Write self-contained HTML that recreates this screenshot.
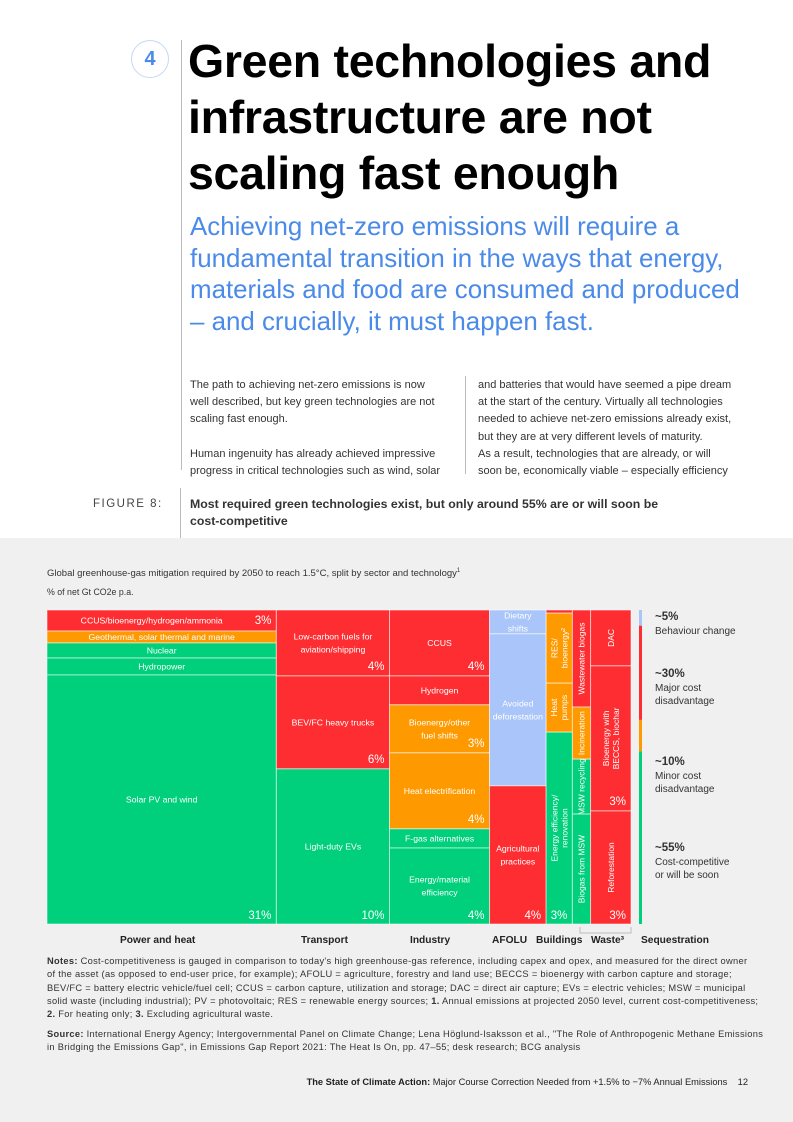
<!DOCTYPE html>
<html><head><meta charset="utf-8"><style>
body{margin:0;width:793px;height:1122px;position:relative;background:#fff;font-family:"Liberation Sans",Arial,sans-serif;overflow:hidden}
.a{position:absolute}
.title{left:188px;top:33px;font-size:46.5px;font-weight:bold;line-height:56px;color:#000;letter-spacing:-0.3px}
.sub{left:190px;top:212px;font-size:25.9px;line-height:31.5px;color:#4a8ae8;white-space:nowrap}
.body{font-size:11px;line-height:17.2px;color:#333}
.gray{left:0;top:538px;width:793px;height:584px;background:#f0f0f0}
.notes{left:47px;width:740px;font-size:9.3px;line-height:13.3px;color:#333;white-space:nowrap;letter-spacing:0.3px}
</style></head><body>
<div class="a" style="left:131px;top:40px;width:36px;height:36px;border:1px solid #c5d8f5;border-radius:50%;color:#4a8ae8;font-weight:bold;font-size:20px;text-align:center;line-height:36px">4</div>
<div class="a" style="left:181px;top:40px;width:1px;height:430px;background:#bbb"></div>
<div class="a title">Green technologies and<br>infrastructure are not<br>scaling fast enough</div>
<div class="a sub">Achieving net-zero emissions will require a<br>fundamental transition in the ways that energy,<br>materials and food are consumed and produced<br>– and crucially, it must happen fast.</div>
<div class="a body" style="left:190px;top:377px;width:280px">The path to achieving net-zero emissions is now<br>well described, but key green technologies are not<br>scaling fast enough.<br><br>Human ingenuity has already achieved impressive<br>progress in critical technologies such as wind, solar</div>
<div class="a" style="left:465px;top:376px;width:1px;height:98px;background:#bbb"></div>
<div class="a body" style="left:478px;top:377px;width:290px">and batteries that would have seemed a pipe dream<br>at the start of the century. Virtually all technologies<br>needed to achieve net-zero emissions already exist,<br>but they are at very different levels of maturity.<br>As a result, technologies that are already, or will<br>soon be, economically viable – especially efficiency</div>
<div class="a" style="left:93px;top:498px;font-size:11.5px;letter-spacing:1.5px;color:#444">FIGURE 8:</div>
<div class="a" style="left:180px;top:488px;width:1px;height:50px;background:#bbb"></div>
<div class="a" style="left:190px;top:496px;font-size:12.3px;font-weight:bold;line-height:16.5px;color:#333">Most required green technologies exist, but only around 55% are or will soon be<br>cost-competitive</div>
<div class="a gray"></div>
<div class="a" style="left:47px;top:568px;font-size:9.5px;color:#333">Global greenhouse-gas mitigation required by 2050 to reach 1.5°C, split by sector and technology<sup style="font-size:6px">1</sup></div>
<div class="a" style="left:47px;top:587px;font-size:8.8px;color:#333">% of net Gt CO2e p.a.</div>
<svg class="a" id="chart" style="left:0;top:0" width="793" height="1122"></svg>
<div class="a notes" style="top:955px"><b>Notes:</b> Cost-competitiveness is gauged in comparison to today's high greenhouse-gas reference, including capex and opex, and measured for the direct owner<br>of the asset (as opposed to end-user price, for example); AFOLU = agriculture, forestry and land use; BECCS = bioenergy with carbon capture and storage;<br>BEV/FC = battery electric vehicle/fuel cell; CCUS = carbon capture, utilization and storage; DAC = direct air capture; EVs = electric vehicles; MSW = municipal<br>solid waste (including industrial); PV = photovoltaic; RES = renewable energy sources; <b>1.</b> Annual emissions at projected 2050 level, current cost-competitiveness;<br><b>2.</b> For heating only; <b>3.</b> Excluding agricultural waste.</div>
<div class="a notes" style="top:1028px"><b>Source:</b> International Energy Agency; Intergovernmental Panel on Climate Change; Lena Höglund-Isaksson et al., "The Role of Anthropogenic Methane Emissions<br>in Bridging the Emissions Gap", in Emissions Gap Report 2021: The Heat Is On, pp. 47–55; desk research; BCG analysis</div>
<div class="a" style="left:280px;top:1077px;width:468px;text-align:right;font-size:9.3px;color:#222"><b>The State of Climate Action:</b> Major Course Correction Needed from +1.5% to −7% Annual Emissions &nbsp;&nbsp;&nbsp;12</div>
<script>
const sectors=["Power and heat","Transport","Industry","AFOLU","Buildings","Waste³","Sequestration"];
const sectorWidths=[227,112,99,56,26,18,40];
const sectorPct=["31%","10%","4%","4%","3%","","3%"];
const segValues=[[6.7,3.8,4.8,5.4,79.3],[21,29.6,49.4],[21,9.2,15.3,24.2,6.1,24.2],[7.6,48.4,44],[1,22.3,15.6,61.1],[30.9,16.6,17.5,35],[17.8,46.2,36]];
const segLabels=[["CCUS/bioenergy/hydrogen/ammonia","Geothermal, solar thermal and marine","Nuclear","Hydropower","Solar PV and wind"],["Low-carbon fuels for|aviation/shipping","BEV/FC heavy trucks","Light-duty EVs"],["CCUS","Hydrogen","Bioenergy/other|fuel shifts","Heat electrification","F-gas alternatives","Energy/material|efficiency"],["Dietary|shifts","Avoided|deforestation","Agricultural|practices"],["","RES/|bioenergy²","Heat|pumps","Energy efficiency/|renovation"],["Wastewater biogas","Incineration","MSW recycling","Biogas from MSW"],["DAC","Bioenergy with|BECCS, biochar","Reforestation"]];
const segCats=[["r","o","g","g","g"],["r","r","g"],["r","r","o","o","g","g"],["b","b","r"],["r","o","o","g"],["r","o","g","g"],["r","r","r"]];
const segPct=[["3%","","","",""],["4%","6%",""],["4%","","3%","4%","",""],["","",""],["","","",""],["","","",""],["","3%",""]];
const legendVals=[5,30,10,55];
const legendCats=["b","r","o","g"];
const legendLabels=[["~5%","Behaviour change"],["~30%","Major cost","disadvantage"],["~10%","Minor cost","disadvantage"],["~55%","Cost-competitive","or will be soon"]];
const colors={r:"#fe2d31",o:"#fe9a00",g:"#00cf7c",b:"#a9c5f9"};
const X0=47,XW=584,Y0=610,YH=314;
const svg=document.getElementById('chart');const NS="http://www.w3.org/2000/svg";
const totW=sectorWidths.reduce((a,b)=>a+b,0);
const xs=v=>v/totW*XW;const ys=v=>v/100*YH;
function el(t,a){const e=document.createElementNS(NS,t);for(const k in a)e.setAttribute(k,a[k]);svg.appendChild(e);return e;}
function txt(x,y,s,size,anchor,rot,weight,fill){const e=el('text',{x:x,y:y,'font-size':size,'text-anchor':anchor,fill:fill||'#fff','font-family':'Liberation Sans, Arial, sans-serif'});if(weight)e.setAttribute('font-weight',weight);if(rot)e.setAttribute('transform',`rotate(-90 ${x} ${y})`);e.textContent=s;return e;}
let cx=X0;
sectors.forEach((s,i)=>{
  const w=xs(sectorWidths[i]);let cy=Y0;
  segValues[i].forEach((v,j)=>{
    const h=ys(v);
    const r=el('rect',{x:cx,y:cy,width:w,height:h,fill:colors[segCats[i][j]],stroke:'rgba(255,255,255,0.55)','stroke-width':1});
    
    
    const lines=segLabels[i][j]?segLabels[i][j].split('|'):[];
    const narrow=w<45;
    const fs=narrow?8.5:8.7;
    if(narrow){
      lines.forEach((ln,k)=>{const xx=cx+w/2+(k-(lines.length-1)/2)*10+3;txt(xx,cy+h/2,ln,fs,'middle',true);});
    } else {
      let my=cy+h/2-(lines.length-1)*6.5+3;
      if(i===0&&j===0)my=cy+h/2+3;
      lines.forEach((ln,k)=>txt(cx+w/2-(i===0&&j===0?10:0),my+k*13,ln,fs,'middle'));
    }
    if(segPct[i][j])txt(cx+w-5,(i===0&&j===0)?cy+14:cy+h-6,segPct[i][j],11.5,'end');
    cy+=h;
  });
  if(sectorPct[i])txt(cx+w-5,Y0+YH-5,sectorPct[i],11.5,'end');
  const lx=[120,301,410,492,536,591,641][i];
  const st=txt(lx,Y0+YH+19,s,10.2,'start',false,'bold','#222');
  
  cx+=w;
});
const br=el('path',{d:'M580 927 V933 H611 M600 933 H631 V927',fill:'none',stroke:'#bbb','stroke-width':1});


let ly=Y0;
legendVals.forEach((v,i)=>{
  const h=ys(v);
  const r=el('rect',{x:639,y:ly,width:3,height:h,fill:colors[legendCats[i]]});
  
  
  const ty=[620,677,765,851][i];
  legendLabels[i].forEach((t,k)=>txt(655,ty+k*13+(k?1:0),t,k?10:11.5,'start',false,k?null:'bold','#333'));
  ly+=h;
});
</script>
</body></html>
